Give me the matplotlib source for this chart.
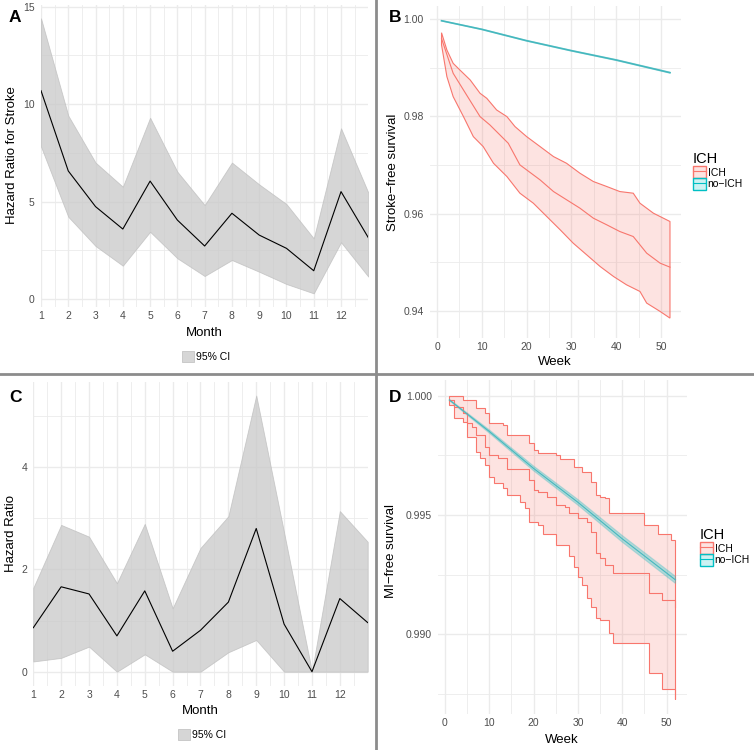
import matplotlib
matplotlib.use("Agg")
import matplotlib.pyplot as plt
from matplotlib.patches import Patch
from matplotlib.lines import Line2D
import numpy as np

plt.rcParams['font.family'] = ['Liberation Sans', 'DejaVu Sans']

# --- monthly hazard ratios (panels A and C) ---
months = [1, 2, 3, 4, 5, 6, 7, 8, 9, 10, 11, 12, 13]
month_ticks = [1, 2, 3, 4, 5, 6, 7, 8, 9, 10, 11, 12]

stroke_hr = [10.69, 6.57, 4.74, 3.59, 6.05, 4.05, 2.72, 4.40, 3.28, 2.60, 1.45, 5.51, 3.15]
stroke_lo = [7.82, 4.22, 2.72, 1.71, 3.45, 2.09, 1.18, 2.00, 1.40, 0.77, 0.29, 2.91, 1.15]
stroke_hi = [14.40, 9.41, 7.00, 5.76, 9.30, 6.53, 4.82, 7.00, 5.88, 4.87, 3.11, 8.76, 5.46]

mi_hr = [0.86, 1.66, 1.52, 0.70, 1.58, 0.40, 0.81, 1.36, 2.80, 0.93, 0.00, 1.43, 0.96]
mi_lo = [0.20, 0.27, 0.49, 0.00, 0.34, 0.00, 0.00, 0.38, 0.62, 0.00, 0.00, 0.00, 0.00]
mi_hi = [1.64, 2.87, 2.64, 1.73, 2.89, 1.24, 2.42, 3.04, 5.40, 2.72, 0.00, 3.14, 2.54]

# --- stroke-free survival (panel B) ---
b_ich_est_wk = [1, 3.6, 5.9, 9.6, 11.8, 15.9, 18.5, 23, 26, 31.9, 34.9, 37.9, 40.8, 43.8, 46.8, 49.8, 52]
b_ich_est = [0.9960, 0.98884, 0.98541, 0.97993, 0.97822, 0.97445, 0.97000, 0.96692, 0.96452,
             0.96110, 0.95904, 0.95767, 0.95630, 0.95527, 0.95185, 0.94979, 0.94897]
b_ich_hi_wk = [1, 2.2, 3.6, 5.1, 7.4, 9.6, 11.1, 13.3, 15.6, 17.4, 20, 23, 26, 28.9, 31.9,
               34.9, 37.9, 40.8, 43.8, 45.3, 48.3, 52]
b_ich_hi = [0.99719, 0.99363, 0.99089, 0.98952, 0.98747, 0.98473, 0.98370, 0.98130, 0.97993,
            0.97788, 0.97582, 0.97377, 0.97171, 0.97034, 0.96829, 0.96658, 0.96555, 0.96452,
            0.96418, 0.96212, 0.96007, 0.95836]
b_ich_lo_wk = [1, 2.2, 3.6, 5.9, 8.1, 10.3, 12.6, 15.6, 18.5, 21.5, 24.5, 27.5, 30.4, 33.4,
               36.4, 39.4, 42.3, 45.3, 46.8, 49.8, 52]
b_ich_lo = [0.9947, 0.98815, 0.98404, 0.97993, 0.97582, 0.97377, 0.97034, 0.96760, 0.96418,
            0.96212, 0.95938, 0.95664, 0.95390, 0.95151, 0.94911, 0.94705, 0.94534, 0.94397,
            0.94158, 0.93986, 0.93849]
b_no_wk = [1, 10, 20, 30, 40, 52]
b_no_est = [0.99965, 0.99788, 0.99554, 0.99349, 0.99157, 0.98897]
b_no_hi = [0.99968, 0.99794, 0.99561, 0.99357, 0.99166, 0.98907]
b_no_lo = [0.99962, 0.99782, 0.99547, 0.99341, 0.99148, 0.98887]

# --- MI-free survival (panel D), step change points ---
d_ich_hi_wk = [1, 4, 7, 9, 10, 13, 14, 19, 20, 21, 25, 26, 29, 31, 33, 34, 35, 36, 37, 45, 48, 51, 52]
d_ich_hi = [1.0, 0.99982, 0.99947, 0.99926, 0.99884, 0.99877, 0.99835, 0.99800, 0.99772, 0.99758,
            0.99751, 0.99735, 0.99703, 0.99682, 0.99640, 0.99584, 0.99577, 0.99570, 0.99507,
            0.99458, 0.99420, 0.99395, 0.99395]
d_ich_est_wk = [1, 2, 4, 5, 6, 7, 9, 10, 12, 14, 19, 20, 21, 23, 25, 27, 28, 30, 32, 33, 34, 35,
                36, 38, 46, 49, 52]
d_ich_est = [0.99982, 0.99954, 0.99926, 0.99884, 0.99870, 0.99835, 0.99786, 0.99751, 0.99738,
             0.99693, 0.99647, 0.99605, 0.99598, 0.99577, 0.99542, 0.99535, 0.99507, 0.99486,
             0.99472, 0.99430, 0.99339, 0.99318, 0.99290, 0.99256, 0.99172, 0.99144, 0.99116]
d_ich_lo_wk = [1, 2, 4, 5, 7, 8, 9, 10, 11, 13, 14, 17, 18, 19, 21, 22, 25, 28, 29, 30, 31, 32,
               33, 34, 35, 37, 38, 46, 49, 52]
d_ich_lo = [0.99961, 0.99905, 0.99891, 0.99828, 0.99765, 0.99737, 0.99709, 0.99660, 0.99633,
            0.99612, 0.99584, 0.99556, 0.99528, 0.99472, 0.99458, 0.99420, 0.99374, 0.99330,
            0.99283, 0.99242, 0.99207, 0.99151, 0.99116, 0.99067, 0.99060, 0.99004, 0.98962,
            0.98839, 0.98769, 0.98728]
d_no_wk = [1, 10, 20, 30, 40, 52]
d_no_est = [0.99982, 0.99850, 0.99695, 0.99553, 0.99400, 0.99228]
d_no_hi = [0.99985, 0.99857, 0.99705, 0.99565, 0.99414, 0.99243]
d_no_lo = [0.99979, 0.99843, 0.99685, 0.99541, 0.99386, 0.99213]

RED = '#F8766D'
TEAL = '#00BFC4'
TEAL_LINE = '#45B8BE'
GRID = '#EBEBEB'
TICK = '#4D4D4D'

W, H = 754, 750
fig = plt.figure(figsize=(W / 100, H / 100), dpi=100)


def fx(x):
    return x / W


def fy(y):
    return 1 - y / H


def px_axes(x0, y0, x1, y1):
    return fig.add_axes([fx(x0), fy(y1), (x1 - x0) / W, (y1 - y0) / H])


def minimal(ax, xmaj, xmin, ymaj, ymin, xlim, ylim, yfmt=None):
    for s in ax.spines.values():
        s.set_visible(False)
    ax.set_xlim(*xlim)
    ax.set_ylim(*ylim)
    ax.set_xticks(xmaj)
    ax.set_xticks(xmin, minor=True)
    ax.set_yticks(ymaj)
    ax.set_yticks(ymin, minor=True)
    if yfmt:
        ax.set_yticklabels([yfmt.format(v) for v in ymaj])
    ax.tick_params(which='both', length=0, labelsize=7.5, labelcolor=TICK)
    ax.tick_params(axis='y', pad=4.5)
    ax.tick_params(axis='x', pad=3)
    ax.grid(which='major', color=GRID, lw=1.0)
    ax.grid(which='minor', color=GRID, lw=0.6)
    ax.set_axisbelow(True)


def staircase(x, y):
    x = np.asarray(x, float)
    y = np.asarray(y, float)
    return np.repeat(x, 2)[1:], np.repeat(y, 2)[:-1]


def hr_panel(ax, hr, lo, hi, ymaj, ymin, ylim, legend_xy):
    minimal(ax, month_ticks, [m + 0.5 for m in month_ticks], ymaj, ymin, (1, 13), ylim)
    ax.fill_between(months, lo, hi, color='#C9C9C9', alpha=0.75, lw=0.6, edgecolor='#BDBDBD')
    ax.plot(months, hr, color='black', lw=0.8)
    ax.legend(handles=[Patch(facecolor='#D6D6D6', edgecolor='#C4C4C4', lw=0.6)],
              labels=['95% CI'], frameon=False, fontsize=7.5,
              handlelength=1.2, handleheight=1.3, handletextpad=0.2,
              borderpad=0, borderaxespad=0, loc='center',
              bbox_to_anchor=(fx(legend_xy[0]), fy(legend_xy[1])),
              bbox_transform=fig.transFigure)


def surv_legend(ax, x, y):
    hs = []
    for c in (RED, TEAL):
        hs.append((Patch(facecolor=c, alpha=0.2, edgecolor='none'),
                   Patch(facecolor='none', edgecolor=c, lw=1.0),
                   Line2D([], [], color=c, lw=0.8)))
    ax.legend(handles=hs, labels=['ICH', 'no\u2212ICH'], title='ICH', title_fontsize=10.5,
              fontsize=7.5, frameon=False, alignment='left', handlelength=1.25,
              handleheight=1.35, handletextpad=0.15, labelspacing=0.0, borderpad=0,
              borderaxespad=0, loc='center left', bbox_to_anchor=(fx(x), fy(y)),
              bbox_transform=fig.transFigure)


# Panel A
axA = px_axes(41, 4.7, 368.3, 307.2)
hr_panel(axA, stroke_hr, stroke_lo, stroke_hi, [0, 5, 10, 15], [2.5, 7.5, 12.5], (-0.42, 15.1),
         (206, 356.5))

# Panel C
axC = px_axes(33.3, 381.7, 367.7, 685.5)
hr_panel(axC, mi_hr, mi_lo, mi_hi, [0, 2, 4], [1, 3, 5], (-0.27, 5.67), (202, 734.5))

# Panel B
axB = px_axes(430.1, 6.4, 681.4, 338)
minimal(axB, [0, 10, 20, 30, 40, 50], [5, 15, 25, 35, 45], [0.94, 0.96, 0.98, 1.00],
        [0.95, 0.97, 0.99], (-1.55, 54.55), (0.9344, 1.0026), '{:.2f}')
axB.fill(np.r_[b_ich_hi_wk, b_ich_lo_wk[::-1]], np.r_[b_ich_hi, b_ich_lo[::-1]],
         facecolor=RED, alpha=0.2, edgecolor='none')
axB.fill(np.r_[b_ich_hi_wk, b_ich_lo_wk[::-1]], np.r_[b_ich_hi, b_ich_lo[::-1]],
         facecolor='none', edgecolor=RED, lw=0.8)
axB.plot(b_ich_est_wk, b_ich_est, color=RED, lw=0.8)
axB.fill(np.r_[b_no_wk, b_no_wk[::-1]], np.r_[b_no_hi, b_no_lo[::-1]],
         facecolor=TEAL, alpha=0.3, edgecolor=TEAL_LINE, lw=0.9)
axB.plot(b_no_wk, b_no_est, color=TEAL_LINE, lw=1.2)
surv_legend(axB, 693, 171)

# Panel D
axD = px_axes(438.1, 380.4, 686.8, 714)
minimal(axD, [0, 10, 20, 30, 40, 50], [5, 15, 25, 35, 45], [0.990, 0.995, 1.000],
        [0.9875, 0.9925, 0.9975], (-1.55, 54.55), (0.98666, 1.00064), '{:.3f}')
ux, uy = staircase(d_ich_hi_wk, d_ich_hi)
lx, ly = staircase(d_ich_lo_wk, d_ich_lo)
axD.fill(np.r_[ux, lx[::-1]], np.r_[uy, ly[::-1]], facecolor=RED, alpha=0.2, edgecolor='none')
axD.fill(np.r_[ux, lx[::-1]], np.r_[uy, ly[::-1]], facecolor='none', edgecolor=RED, lw=0.8)
ex, ey = staircase(d_ich_est_wk, d_ich_est)
axD.plot(ex, ey, color=RED, lw=0.8)
axD.fill(np.r_[d_no_wk, d_no_wk[::-1]], np.r_[d_no_hi, d_no_lo[::-1]],
         facecolor=TEAL, alpha=0.3, edgecolor=TEAL_LINE, lw=0.8)
axD.plot(d_no_wk, d_no_est, color=TEAL_LINE, lw=0.8)
surv_legend(axD, 700, 547)

# axis titles and panel letters
fs = 9.5
fig.text(fx(12), fy(155), 'Hazard Ratio for Stroke', rotation=90, ha='center', va='center', fontsize=fs)
fig.text(fx(204.3), fy(332.7), 'Month', ha='center', va='center', fontsize=fs)
fig.text(fx(393), fy(172), 'Stroke\u2212free survival', rotation=90, ha='center', va='center', fontsize=fs)
fig.text(fx(555), fy(361.7), 'Week', ha='center', va='center', fontsize=fs)
fig.text(fx(11.5), fy(533), 'Hazard Ratio', rotation=90, ha='center', va='center', fontsize=fs)
fig.text(fx(200), fy(710.7), 'Month', ha='center', va='center', fontsize=fs)
fig.text(fx(391), fy(551), 'MI\u2212free survival', rotation=90, ha='center', va='center', fontsize=fs)
fig.text(fx(561.7), fy(740), 'Week', ha='center', va='center', fontsize=fs)

for letter, x, y in [('A', 15, 17), ('B', 395, 17), ('C', 15, 398), ('D', 395, 398)]:
    fig.text(fx(x), fy(y), letter, ha='center', va='center', fontsize=12.5, fontweight='bold')

# grey frame between the panels
fig.add_artist(Line2D([fx(375.5), fx(375.5)], [0, 1], color='#8C8C8C', lw=2.0, transform=fig.transFigure))
fig.add_artist(Line2D([0, 1], [fy(373.5), fy(373.5)], color='#8C8C8C', lw=2.0, transform=fig.transFigure))

fig.savefig('out.png', dpi=100)
